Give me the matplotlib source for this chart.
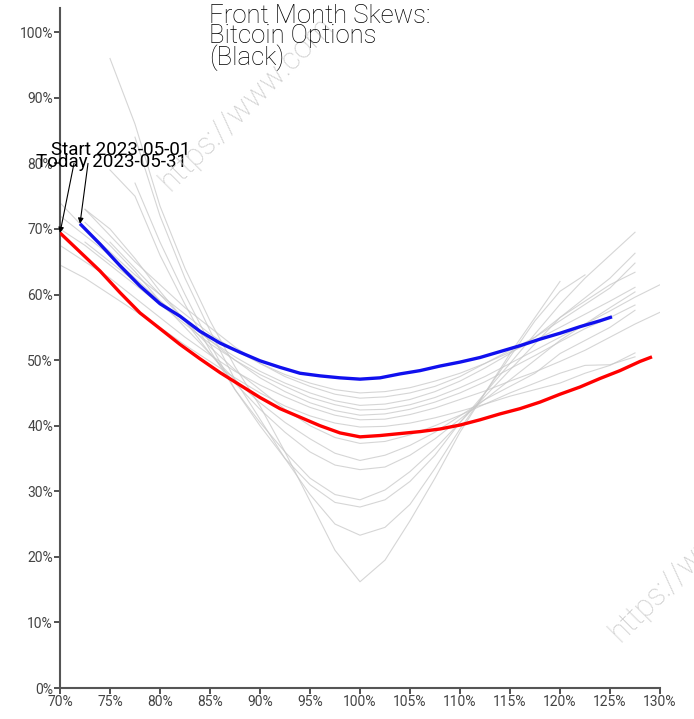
import matplotlib

matplotlib.use("Agg")
import matplotlib.pyplot as plt  # noqa: E402
import numpy as np  # noqa: E402

plt.rcParams["font.family"] = ["Roboto", "DejaVu Sans"]

# moneyness grid shared by the intermediate daily skews (%)
moneyness = [70, 72.5, 75, 77.5, 80, 82.5, 85, 87.5, 90, 92.5, 95, 97.5, 100,
             102.5, 105, 107.5, 110, 112.5, 115, 117.5, 120, 122.5, 125, 127.5, 130]
N = None

# intermediate days (grey), implied vol in %
skew_g1 = [N, N, 96, 86, 73.5, 64, 56, 49, 43, 36, 28.5, 21, 16.2,
           19.5, 25.5, 32, 39, 45, 51, 56.5, 62, N, N, N, N]
skew_g2 = [N, N, N, 84, 72, 62.5, 54.5, 47, 41, 35, 29.5, 25, 23.3,
           24.5, 28, 33.5, 39.5, 45, 50.5, 56, 60.5, 63, N, N, N]
skew_g3 = [N, N, N, 77, 68, 60, 52.5, 45.5, 40, 35, 31, 28.3, 27.6,
           28.7, 31.5, 35.5, 40.5, 45, 49.5, 54, 58.5, 62.5, 66, 69.5, N]
skew_g4 = [N, N, 79, 75, 66, 58.5, 51.5, 45.5, 40.5, 36, 32, 29.5, 28.7,
           30.2, 33, 36.5, 40.5, 44.5, 48.5, 52.5, 56.5, 59, 61.5, 63.4, N]
skew_g5 = [N, 73, 70, 65.5, 60.5, 56, 51, 46.5, 42.5, 39, 36, 34, 33.3,
           33.7, 35.5, 38, 41, 44, 47, 50, 53, 55.5, 58, 60.4, N]
skew_g6 = [N, 71, 67.5, 63.5, 59, 55, 51, 47, 43.5, 40.5, 38, 35.8, 34.7,
           35.5, 37, 39, 41.5, 44, 46, 48, 51, 53, 55, 57.6, N]
skew_g7 = [N, N, 68, 64, 60, 56, 52, 48.5, 45.5, 42.5, 40, 38.2, 37.3,
           37.6, 38.6, 40, 41.6, 43.3, 45, 46.5, 48, 49.2, 49.3, 50.5, N]
skew_s1 = [74, 70, 66.5, 63, 60, 57, 54, 51.5, 49.5, 47.8, 46.5, 45.5, 45.0,
           45.2, 45.8, 46.8, 48, 49.5, 51.2, 53, 55, 57, 59, 61.1, N]
skew_s2 = [N, 73, 69, 65, 61.5, 58, 55, 52, 49.5, 47.5, 46, 44.8, 44.2,
           44.4, 45, 46, 47.5, 49.5, 51.5, 53.5, 56, 58.5, 61, 64.8, N]
skew_s3 = [72, 69, 66, 62.5, 59, 56, 53, 50.5, 48.3, 46.5, 45, 43.8, 43.1,
           43.3, 44, 45.2, 46.8, 48.8, 51, 53.5, 56.5, 59.5, 62.5, 66.3, N]
skew_s4 = [70, 67.5, 64.5, 61.5, 58.5, 55.5, 52.5, 50, 47.8, 46, 44.3, 43.2, 42.4,
           42.5, 43.2, 44.3, 45.8, 47.5, 49.5, 51.5, 53.5, 55.5, 57.5, 59.6, 61.5]
skew_s5 = [N, 68, 65, 62, 59, 56, 53, 50, 47.3, 45.2, 43.5, 42.3, 41.6,
           41.8, 42.5, 43.6, 45, 46.7, 48.7, 50.7, 52.8, 54.8, 56.5, 58.4, N]
skew_s6 = [67.5, 65, 62.5, 59.5, 56.5, 53.5, 50.8, 48.3, 46.2, 44.4, 42.8, 41.6, 40.9,
           41, 41.7, 42.7, 44, 45.3, 46.8, 48.2, 49.8, 51.5, 53.5, 55.5, 57.3]
skew_s7 = [64.5, 62.5, 60, 57.5, 55, 52.3, 49.8, 47.3, 45, 43, 41.5, 40.4, 39.8,
           39.9, 40.4, 41.2, 42.2, 43.3, 44.5, 45.5, 46.5, 48, 49.2, 51.1, N]

# start of month (blue)
start_x = [72, 74, 76, 78, 80, 82, 84, 86, 88, 90, 92, 94, 96, 98, 100, 102, 104,
           106, 108, 110, 112, 114, 116, 118, 120, 122, 124, 125.2]
start_y = [70.8, 67.7, 64.4, 61.3, 58.6, 56.7, 54.4, 52.6, 51.2, 49.9, 48.9, 48.0,
           47.6, 47.3, 47.1, 47.3, 47.9, 48.4, 49.1, 49.7, 50.4, 51.3, 52.2, 53.2,
           54.1, 55.1, 56.0, 56.6]

# today (red)
today_x = [70, 72, 74, 76, 78, 80, 82, 84, 86, 88, 90, 92, 94, 96, 98, 100, 102,
           104, 106, 108, 110, 112, 114, 116, 118, 120, 122, 124, 126, 128, 129.2]
today_y = [69.4, 66.5, 63.6, 60.3, 57.2, 54.8, 52.4, 50.2, 48.1, 46.2, 44.3, 42.6,
           41.3, 40.0, 38.9, 38.3, 38.5, 38.8, 39.1, 39.5, 40.1, 40.9, 41.8, 42.6,
           43.6, 44.8, 45.9, 47.2, 48.4, 49.8, 50.5]

start_label = "Start 2023-05-01"
today_label = "Today 2023-05-31"
title = "Front Month Skews:\nBitcoin Options\n(Black)"
x_ticks = [70, 75, 80, 85, 90, 95, 100, 105, 110, 115, 120, 125, 130]
y_ticks = [0, 10, 20, 30, 40, 50, 60, 70, 80, 90, 100]

grey_days = [skew_g1, skew_g2, skew_g3, skew_g4, skew_g5, skew_g6, skew_g7,
             skew_s1, skew_s2, skew_s3, skew_s4, skew_s5, skew_s6, skew_s7]

fig = plt.figure(figsize=(6.94, 7.19), dpi=100)
ax = fig.add_axes([60 / 694, 1 - 688 / 719, 600 / 694, 680 / 719])

for day in grey_days:
    vals = np.array([np.nan if v is None else v for v in day], dtype=float)
    ax.plot(moneyness, vals, color="#c8c8c8", lw=0.8, alpha=0.75, zorder=1)

ax.plot(start_x, start_y, color="#1010ee", lw=2.4, zorder=3, solid_capstyle="butt")
ax.plot(today_x, today_y, color="#ff0000", lw=2.4, zorder=3, solid_capstyle="butt")

ax.set_xlim(70, 130)
ax.set_ylim(0, 103.7)
ax.set_xticks(x_ticks)
ax.set_xticklabels([f"{t}%" for t in x_ticks])
ax.set_yticks(y_ticks)
ax.set_yticklabels([f"{t}%" for t in y_ticks])
for side in ("top", "right"):
    ax.spines[side].set_visible(False)
for side in ("left", "bottom"):
    ax.spines[side].set_color("#555555")
    ax.spines[side].set_linewidth(1.5)
ax.tick_params(axis="both", colors="#333333", labelcolor="#444444",
               labelsize=10, length=4, width=1.2, pad=1)

# annotations
ax.text(76.1, 82.0, start_label, ha="center", va="center", fontsize=13.5,
        color="black", zorder=5)
ax.text(75.15, 80.2, today_label, ha="center", va="center", fontsize=13.5,
        color="black", zorder=5)
arrow = dict(arrowstyle="-|>", color="black", lw=0.8, shrinkA=0, shrinkB=0,
             mutation_scale=8)
ax.annotate("", xy=(start_x[0], start_y[0]), xytext=(72.8, 80.0), arrowprops=arrow, zorder=5)
ax.annotate("", xy=(today_x[0], today_y[0]), xytext=(71.4, 80.0), arrowprops=arrow, zorder=5)

fig.text(209 / 694, 1 - 4 / 719, title, ha="left", va="top", fontsize=18.5,
         fontweight="light", linespacing=0.8, color="black")

# watermark
for (wx, wy) in [(170 / 694, 1 - 192 / 719), (620 / 694, 1 - 643 / 719)]:
    fig.text(wx, wy, "https://www.com", rotation=45, rotation_mode="anchor",
             ha="left", va="baseline", fontsize=22, fontweight="light",
             color="#cccccc", zorder=0)

fig.savefig("out.png", dpi=100)
